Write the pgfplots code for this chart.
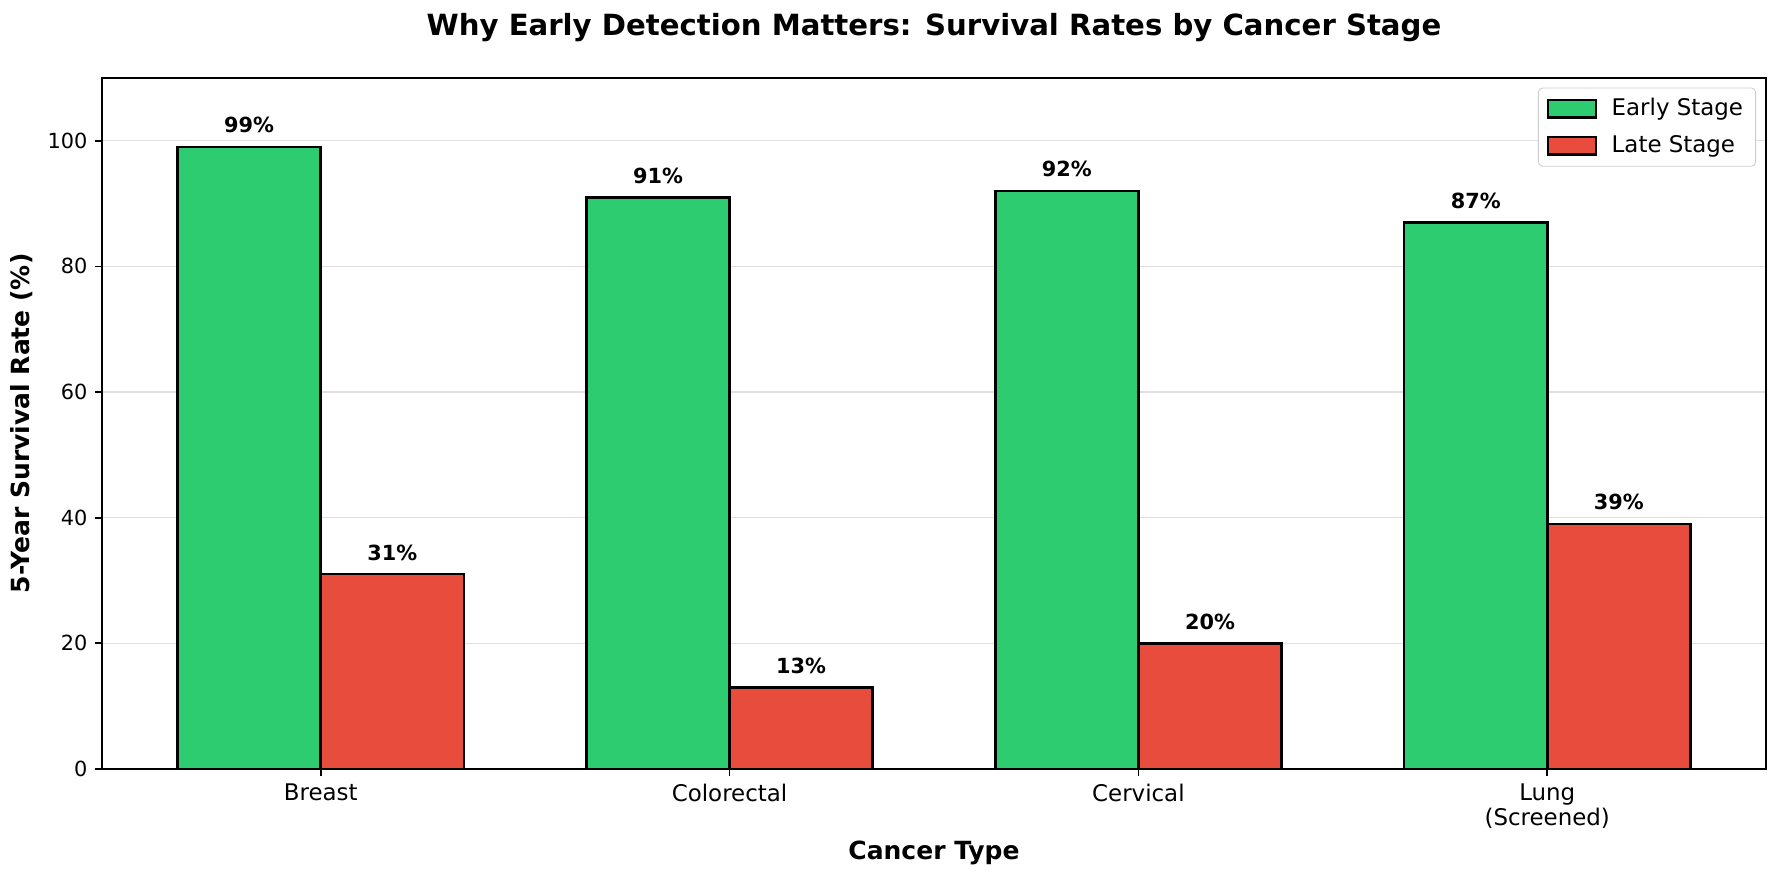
\documentclass[border=0pt]{standalone}
\usepackage{pgfplots}
\pgfplotsset{compat=1.18}
\usepackage{fontspec}
\setmainfont{DejaVu Sans}
\definecolor{early}{HTML}{2ECC71}
\definecolor{late}{HTML}{E74C3C}
\pgfplotstableread{
x early late
0 99 31
1 91 13
2 92 20
3 87 39
}\data
\begin{document}
\begin{tikzpicture}
\useasboundingbox (-48.96pt,-54.24pt) rectangle (806.4pt,369.1pt);
\begin{axis}[
  scale only axis,
  width=798.7pt, height=331.7pt,
  xmin=-0.535, xmax=3.535,
  ymin=0, ymax=110,
  xtick=data,
  xticklabels={Breast,Colorectal,Cervical,{Lung\\(Screened)}},
  xticklabel style={align=center, font=\fontsize{11}{12}\selectfont},
  ytick={0,20,40,60,80,100},
  yticklabel style={font=\fontsize{10}{12}\selectfont},
  /pgf/number format/assume math mode=true,
  tick align=outside,
  xtick pos=bottom, ytick pos=left,
  major tick length=3.5pt,
  tick style={black, line width=0.8pt},
  ymajorgrids,
  grid style={gray!25, line width=0.6pt},
  axis line style={line width=0.8pt},
  xlabel={\bfseries Cancer Type},
  ylabel={\bfseries 5-Year Survival Rate (\%)},
  xlabel style={font=\fontsize{12}{14}\selectfont, yshift=1pt},
  ylabel style={font=\fontsize{12}{14}\selectfont},
  title={\bfseries Why Early Detection Matters: Survival Rates by Cancer Stage},
  title style={font=\fontsize{14}{16}\selectfont, yshift=8pt},
  ybar, bar width=0.35,
  nodes near coords={\pgfmathprintnumber{\pgfplotspointmeta}\%},
  nodes near coords style={font=\bfseries\fontsize{10}{12}\selectfont, anchor=south, inner sep=0pt, yshift=6pt},
  legend style={at={(0.994,0.986)}, anchor=north east, draw=gray!40, rounded corners=2pt, font=\fontsize{11}{13}\selectfont, row sep=4pt, column sep=5pt, inner xsep=4pt, inner ysep=3pt},
  legend cell align=left,
  legend image code/.code={\draw[#1, rounded corners=0pt, line width=1.2pt] (0pt,-4.2pt) rectangle (23pt,4.2pt);},
]
\addplot[bar shift=-0.175, fill=early, draw=black, line width=1.2pt] table[x=x,y=early]{\data};
\addlegendentry{Early Stage}
\addplot[bar shift=0.175, fill=late, draw=black, line width=1.2pt] table[x=x,y=late]{\data};
\addlegendentry{Late Stage}
\end{axis}
\end{tikzpicture}
\end{document}
